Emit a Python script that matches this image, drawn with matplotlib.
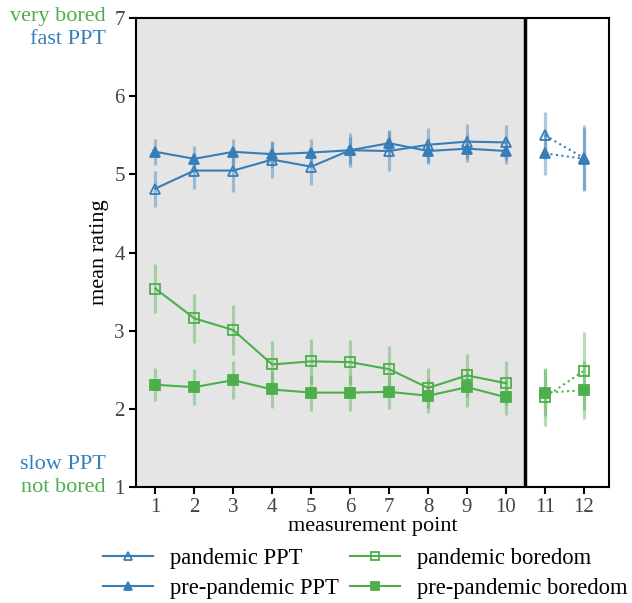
import matplotlib.pyplot as plt

plt.rcParams['font.family'] = ['Liberation Serif', 'DejaVu Serif']

points = [1, 2, 3, 4, 5, 6, 7, 8, 9, 10]
points_after = [11, 12]

pand_ppt = [4.82, 5.05, 5.05, 5.19, 5.10, 5.31, 5.30, 5.38, 5.42, 5.41]
pand_ppt_err = [0.23, 0.23, 0.28, 0.23, 0.24, 0.22, 0.26, 0.22, 0.22, 0.22]
pre_ppt = [5.29, 5.20, 5.29, 5.26, 5.28, 5.31, 5.40, 5.30, 5.33, 5.30]
pre_ppt_err = [0.17, 0.17, 0.17, 0.17, 0.17, 0.17, 0.17, 0.17, 0.17, 0.17]

pand_bore = [3.54, 3.16, 3.01, 2.57, 2.61, 2.60, 2.51, 2.27, 2.43, 2.33]
pand_bore_err = [0.31, 0.31, 0.32, 0.30, 0.29, 0.28, 0.29, 0.26, 0.28, 0.28]
pre_bore = [2.31, 2.28, 2.37, 2.25, 2.21, 2.21, 2.22, 2.17, 2.28, 2.15]
pre_bore_err = [0.21, 0.23, 0.24, 0.24, 0.23, 0.23, 0.22, 0.22, 0.25, 0.23]

pand_ppt_after = [5.50, 5.21]
pand_ppt_after_err = [0.30, 0.42]
pre_ppt_after = [5.27, 5.20]
pre_ppt_after_err = [0.28, 0.40]
pand_bore_after = [2.15, 2.49]
pand_bore_after_err = [0.37, 0.50]
pre_bore_after = [2.21, 2.24]
pre_bore_after_err = [0.30, 0.37]

blue = '#377eb8'
green = '#4daf4a'

fig = plt.figure(figsize=(6.32, 6.03), dpi=100)
ax = fig.add_axes([0.215, 0.192, 0.749, 0.778])

ax.axvspan(0.5, 10.5, color='#e5e5e5', zorder=0)
ax.axvline(10.5, color='black', lw=2.5, zorder=3)

series = [
    (pand_ppt, pand_ppt_err, pand_ppt_after, pand_ppt_after_err, blue, '^', 'none', 'pandemic PPT'),
    (pre_ppt, pre_ppt_err, pre_ppt_after, pre_ppt_after_err, blue, '^', blue, 'pre-pandemic PPT'),
    (pand_bore, pand_bore_err, pand_bore_after, pand_bore_after_err, green, 's', 'none', 'pandemic boredom'),
    (pre_bore, pre_bore_err, pre_bore_after, pre_bore_after_err, green, 's', green, 'pre-pandemic boredom'),
]

handles = {}
for y, e, ya, ea, c, m, fc, lab in series:
    ax.errorbar(points, y, yerr=e, fmt='none', ecolor=c, elinewidth=2.3, alpha=0.42, zorder=2)
    ax.errorbar(points_after, ya, yerr=ea, fmt='none', ecolor=c, elinewidth=2.3, alpha=0.42, zorder=2)
    h, = ax.plot(points, y, color=c, marker=m, mfc=fc, mec=c, ms=6.5, mew=1.3, lw=1.5, zorder=4, label=lab)
    ax.plot(points_after, ya, color=c, marker=m, mfc=fc, mec=c, ms=6.5, mew=1.3, lw=1.5, ls=':', zorder=4)
    handles[lab] = h

ax.set_xlim(0.5, 12.65)
ax.set_ylim(1, 7)
ax.set_xticks(list(range(1, 13)))
ax.set_yticks([1, 2, 3, 4, 5, 6, 7])
ax.tick_params(labelsize=15, labelcolor='#444444', width=1.5, length=5, pad=3)
for s in ax.spines.values():
    s.set_linewidth(1.5)
ax.set_xlabel('measurement point', fontsize=16, labelpad=0)
ax.set_ylabel('mean rating', fontsize=16, labelpad=4)

fig.text(0.167, 0.972, 'very bored', color=green, fontsize=16, ha='right', va='center')
fig.text(0.167, 0.934, 'fast PPT', color=blue, fontsize=16, ha='right', va='center')
fig.text(0.167, 0.229, 'slow PPT', color=blue, fontsize=16, ha='right', va='center')
fig.text(0.167, 0.192, 'not bored', color=green, fontsize=16, ha='right', va='center')

order = ['pandemic PPT', 'pre-pandemic PPT', 'pandemic boredom', 'pre-pandemic boredom']
fig.legend([handles[k] for k in order], order, loc='lower left', bbox_to_anchor=(0.163, 0.006),
           ncol=2, frameon=False, fontsize=16.3, handlelength=2.2, handletextpad=0.75,
           columnspacing=0.5, labelspacing=0.4, borderpad=0, borderaxespad=0, markerscale=0.85)

plt.savefig('out.png', dpi=100)
